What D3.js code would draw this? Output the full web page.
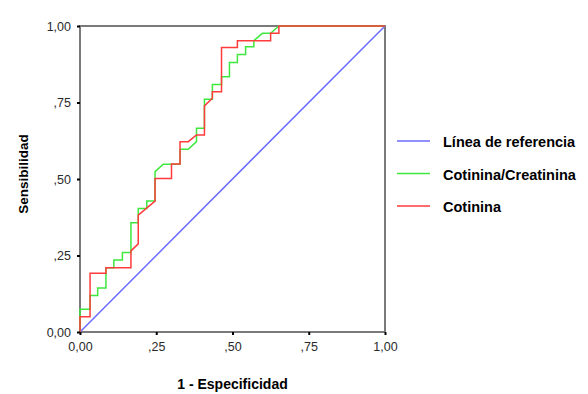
<!DOCTYPE html>
<html>
<head>
<meta charset="utf-8">
<script src="https://cdn.jsdelivr.net/npm/d3@7"></script>
<style>
  body { margin: 0; background: #fff; }
  text { font-family: "Liberation Sans", Arial, sans-serif; }
</style>
</head>
<body>
<svg></svg>
<script>
// ROC points, [1 - especificidad, sensibilidad]
const cotinina = [
  [0, 0], [0, 0.05], [0.033, 0.05], [0.033, 0.192], [0.085, 0.192], [0.085, 0.21],
  [0.167, 0.21], [0.167, 0.265], [0.191, 0.288], [0.191, 0.382], [0.246, 0.428],
  [0.246, 0.502], [0.30, 0.502], [0.30, 0.549], [0.328, 0.549], [0.328, 0.622],
  [0.355, 0.622], [0.382, 0.644], [0.408, 0.644], [0.408, 0.739], [0.434, 0.764],
  [0.434, 0.785], [0.464, 0.785], [0.464, 0.93], [0.516, 0.93], [0.516, 0.952],
  [0.625, 0.952], [0.625, 0.976], [0.652, 0.976], [0.652, 1], [1, 1]
]
const cotCreat = [
  [0, 0], [0, 0.074], [0.033, 0.074], [0.033, 0.119], [0.058, 0.119], [0.058, 0.144],
  [0.085, 0.144], [0.085, 0.21], [0.111, 0.21], [0.111, 0.235], [0.139, 0.235],
  [0.139, 0.26], [0.167, 0.26], [0.167, 0.357], [0.191, 0.357], [0.191, 0.404],
  [0.219, 0.404], [0.219, 0.428], [0.246, 0.428], [0.246, 0.524], [0.273, 0.548],
  [0.30, 0.548], [0.328, 0.548], [0.328, 0.597], [0.355, 0.597], [0.382, 0.622],
  [0.382, 0.666], [0.408, 0.666], [0.408, 0.761], [0.434, 0.761], [0.434, 0.809],
  [0.464, 0.809], [0.464, 0.834], [0.49, 0.834], [0.49, 0.881], [0.516, 0.881],
  [0.516, 0.907], [0.543, 0.907], [0.543, 0.932], [0.570, 0.932], [0.570, 0.952],
  [0.598, 0.976], [0.625, 0.976], [0.652, 1], [1, 1]
]
const referencia = [[0, 0], [1, 1]]

const ticks = [0, 0.25, 0.5, 0.75, 1]
const tickLabels = ["0,00", ",25", ",50", ",75", "1,00"]

const series = [
  {name: "Línea de referencia", data: referencia, color: "#6b6bff"},
  {name: "Cotinina/Creatinina", data: cotCreat, color: "#3ee83e"},
  {name: "Cotinina", data: cotinina, color: "#ff3b3b"}
]

const width = 588, height = 394
const margin = {left: 80, top: 26, right: 203, bottom: 62}

let svg = d3.select("svg")
    .attr("width", width)
    .attr("height", height)

let x = d3.scaleLinear().domain([0, 1]).range([margin.left, width - margin.right])
let y = d3.scaleLinear().domain([0, 1]).range([height - margin.bottom, margin.top])

// frame
svg.append("rect")
    .attr("x", x(0)).attr("y", y(1))
    .attr("width", x(1) - x(0)).attr("height", y(0) - y(1))
    .attr("fill", "none")
    .attr("stroke", "#7a7a7a")
    .attr("stroke-width", 2)

let line = d3.line().x(d => x(d[0])).y(d => y(d[1]))

// draw reference first, then green, then red on top
svg.selectAll("path.roc")
    .data(series)
    .enter()
    .append("path")
    .attr("class", "roc")
    .attr("d", d => line(d.data))
    .attr("fill", "none")
    .attr("stroke", d => d.color)
    .attr("stroke-width", 1.5)

// axes
let fmt = d => tickLabels[ticks.indexOf(d)]
let xAxis = svg.append("g")
    .attr("transform", `translate(0,${y(0)})`)
    .call(d3.axisBottom(x).tickValues(ticks).tickFormat(fmt).tickSize(3).tickPadding(7))
let yAxis = svg.append("g")
    .attr("transform", `translate(${x(0)},0)`)
    .call(d3.axisLeft(y).tickValues(ticks).tickFormat(fmt).tickSize(3).tickPadding(6))

svg.selectAll(".domain").remove()
svg.selectAll(".tick line").attr("stroke", "#000").attr("stroke-width", 2)
svg.selectAll(".tick text")
    .attr("fill", "#2a2a2a")
    .style("font-size", "12.5px")
    .style("font-family", "Liberation Sans, Arial, sans-serif")

// titles
svg.append("text")
    .attr("x", x(0.5)).attr("y", 389)
    .attr("text-anchor", "middle")
    .style("font-size", "14px").style("font-weight", "bold")
    .text("1 - Especificidad")

svg.append("text")
    .attr("transform", `translate(28,174) rotate(-90)`)
    .attr("text-anchor", "middle")
    .style("font-size", "13.5px").style("font-weight", "bold")
    .text("Sensibilidad")

// legend
let legend = svg.selectAll("g.leg")
    .data(series)
    .enter()
    .append("g")
    .attr("class", "leg")
    .attr("transform", (d, i) => `translate(397,${141 + i * 32.5})`)

legend.append("line")
    .attr("x1", 0).attr("x2", 33)
    .attr("stroke", d => d.color)
    .attr("stroke-width", 1.5)

legend.append("text")
    .attr("x", 46).attr("y", 6)
    .style("font-size", "14.5px").style("font-weight", "bold")
    .text(d => d.name)
</script>
</body>
</html>
